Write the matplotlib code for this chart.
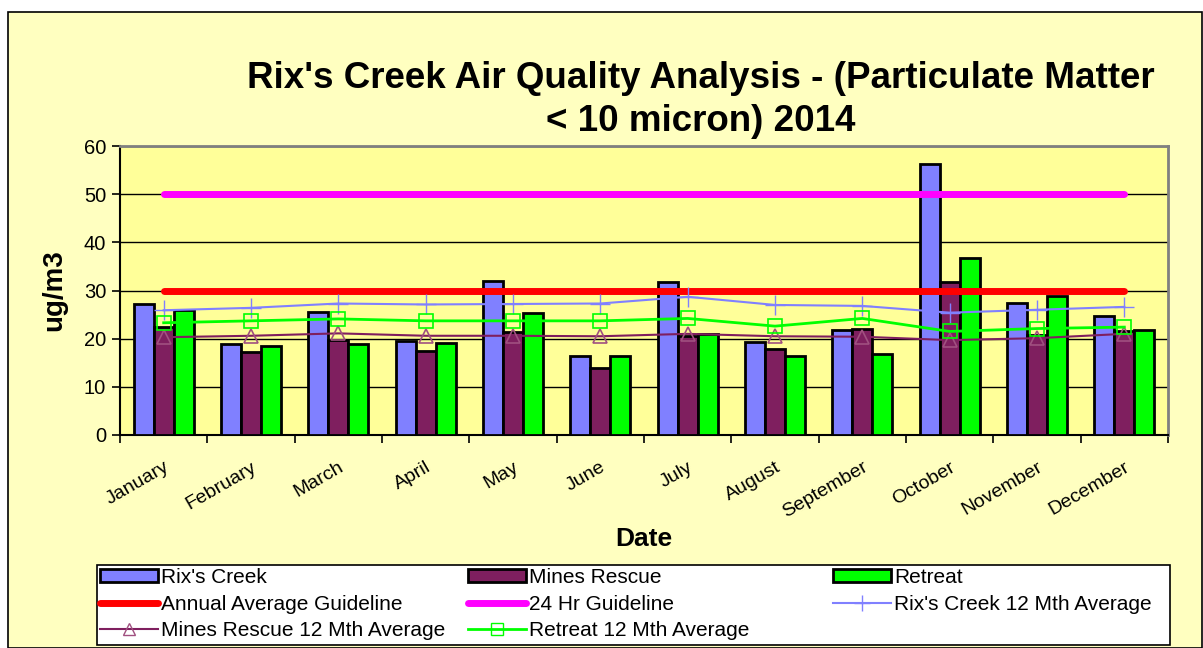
import matplotlib
matplotlib.use("Agg")
import matplotlib.pyplot as plt
import numpy as np
from matplotlib.lines import Line2D
from matplotlib.patches import Patch, Rectangle

plt.rcParams['font.family'] = ['Liberation Sans', 'DejaVu Sans']

months = ["January", "February", "March", "April", "May", "June", "July",
          "August", "September", "October", "November", "December"]
rix = [27.2, 18.8, 25.6, 19.6, 32.0, 16.3, 31.7, 19.3, 21.7, 56.2, 27.5, 24.8]
mines = [22.5, 17.2, 19.8, 17.4, 21.4, 14.0, 20.5, 17.9, 22.0, 31.8, 20.7, 21.6]
retreat = [26.0, 18.4, 18.8, 19.0, 25.3, 16.3, 21.0, 16.5, 16.8, 36.8, 28.8, 21.9]
rix_avg = [25.9, 26.4, 27.3, 27.1, 27.2, 27.3, 28.7, 27.0, 26.8, 25.4, 26.0, 26.6]
mines_avg = [20.3, 20.6, 21.1, 20.6, 20.6, 20.5, 21.0, 20.5, 20.4, 19.7, 20.1, 21.0]
retreat_avg = [23.3, 23.7, 24.1, 23.7, 23.7, 23.7, 24.2, 22.6, 24.2, 21.5, 22.1, 22.4]
annual_guideline = [30] * 12
daily_guideline = [50] * 12
yticks = [0, 10, 20, 30, 40, 50, 60]

W, H = 1203, 648
fig = plt.figure(figsize=(W / 100, H / 100), dpi=100)
fig.patch.set_facecolor('white')
bg = Rectangle((8 / W, 0), 1 - 9 / W, 1 - 12 / H, transform=fig.transFigure,
               facecolor='#FFFFC0', edgecolor='black', linewidth=1.2, zorder=-10)
fig.patches.append(bg)

ax = fig.add_axes([120 / W, 1 - 435 / H, (1168 - 120) / W, (435 - 146) / H])
ax.set_facecolor('#FFFF99')

x = np.arange(len(months))
w = 0.23
ax.bar(x - w, rix, w, color='#8080FF', edgecolor='black', linewidth=2, zorder=3)
ax.bar(x, mines, w, color='#7F1F5F', edgecolor='black', linewidth=2, zorder=3)
ax.bar(x + w, retreat, w, color='#00FF00', edgecolor='black', linewidth=2, zorder=3)

ax.plot(x, annual_guideline, color='#FF0000', linewidth=5, solid_capstyle='round', zorder=4)
ax.plot(x, daily_guideline, color='#FF00FF', linewidth=5, solid_capstyle='round', zorder=4)
ax.plot(x, rix_avg, color='#8080FF', linewidth=1.5, marker='+', markersize=14, markeredgewidth=1, zorder=5)
ax.plot(x, mines_avg, color='#7F1F5F', linewidth=1.5, marker='^', markersize=10,
        markerfacecolor='none', markeredgecolor='#A05080', markeredgewidth=1.2, zorder=5)
ax.plot(x, retreat_avg, color='#00FF00', linewidth=2, marker='s', markersize=10,
        markerfacecolor='none', markeredgewidth=1.2, zorder=5)

ax.set_xlim(-0.5, 11.5)
ax.set_ylim(0, 60)
ax.set_yticks(yticks)
ax.set_yticklabels([str(v) for v in yticks], fontsize=14.5)
ax.yaxis.grid(True, color='black', linewidth=1)
ax.set_axisbelow(True)
ax.set_xticks(np.arange(-0.5, 12, 1))
ax.set_xticklabels([])
ax.set_xticks(x, minor=True)
ax.set_xticklabels(months, minor=True, rotation=30, ha='right', rotation_mode='anchor', fontsize=14)
ax.tick_params(axis='x', which='minor', length=0, pad=17)
ax.tick_params(axis='x', which='major', length=6, width=1.2, direction='out')
ax.tick_params(axis='y', length=6, width=1.2, direction='out', pad=4)
for s in ['top', 'right']:
    ax.spines[s].set_color('#808080')
    ax.spines[s].set_linewidth(2)
for s in ['left', 'bottom']:
    ax.spines[s].set_color('black')
    ax.spines[s].set_linewidth(1.5)

ax.set_ylabel('ug/m3', fontsize=20, fontweight='bold', labelpad=12)
ax.set_xlabel('Date', fontsize=19, fontweight='bold', labelpad=4)

fig.text(701 / W, 1 - 100 / H, "Rix's Creek Air Quality Analysis - (Particulate Matter\n< 10 micron) 2014",
         ha='center', va='center', fontsize=26.5, fontweight='bold', linespacing=1.3)

# legend frame
fig.patches.append(Rectangle((97 / W, 1 - 645 / H), (1170 - 97) / W, (645 - 565) / H,
                             transform=fig.transFigure, facecolor='white',
                             edgecolor='black', linewidth=1.2, zorder=5))

columns = [
    (100, [Patch(facecolor='#8080FF', edgecolor='black', linewidth=2),
           Line2D([], [], color='#FF0000', linewidth=5, solid_capstyle='round'),
           Line2D([], [], color='#7F1F5F', linewidth=1.5, marker='^', markersize=8,
                  markerfacecolor='none', markeredgecolor='#A05080')],
     ["Rix's Creek", "Annual Average Guideline", "Mines Rescue 12 Mth Average"]),
    (468, [Patch(facecolor='#7F1F5F', edgecolor='black', linewidth=2),
           Line2D([], [], color='#FF00FF', linewidth=5, solid_capstyle='round'),
           Line2D([], [], color='#00FF00', linewidth=2, marker='s', markersize=8, markerfacecolor='none')],
     ["Mines Rescue", "24 Hr Guideline", "Retreat 12 Mth Average"]),
    (833, [Patch(facecolor='#00FF00', edgecolor='black', linewidth=2),
           Line2D([], [], color='#8080FF', linewidth=1.5, marker='+', markersize=12)],
     ["Retreat", "Rix's Creek 12 Mth Average"]),
]
for xpos, hs, ls in columns:
    lg = fig.legend(hs, ls, loc='upper left', bbox_to_anchor=(xpos / W, 1 - 568 / H),
                    fontsize=15, frameon=False, handlelength=2.8, handleheight=0.6,
                    handletextpad=0.12, labelspacing=0.37, borderpad=0, borderaxespad=0)
    lg.set_zorder(6)

fig.savefig('out.png', dpi=100, facecolor=fig.get_facecolor())
